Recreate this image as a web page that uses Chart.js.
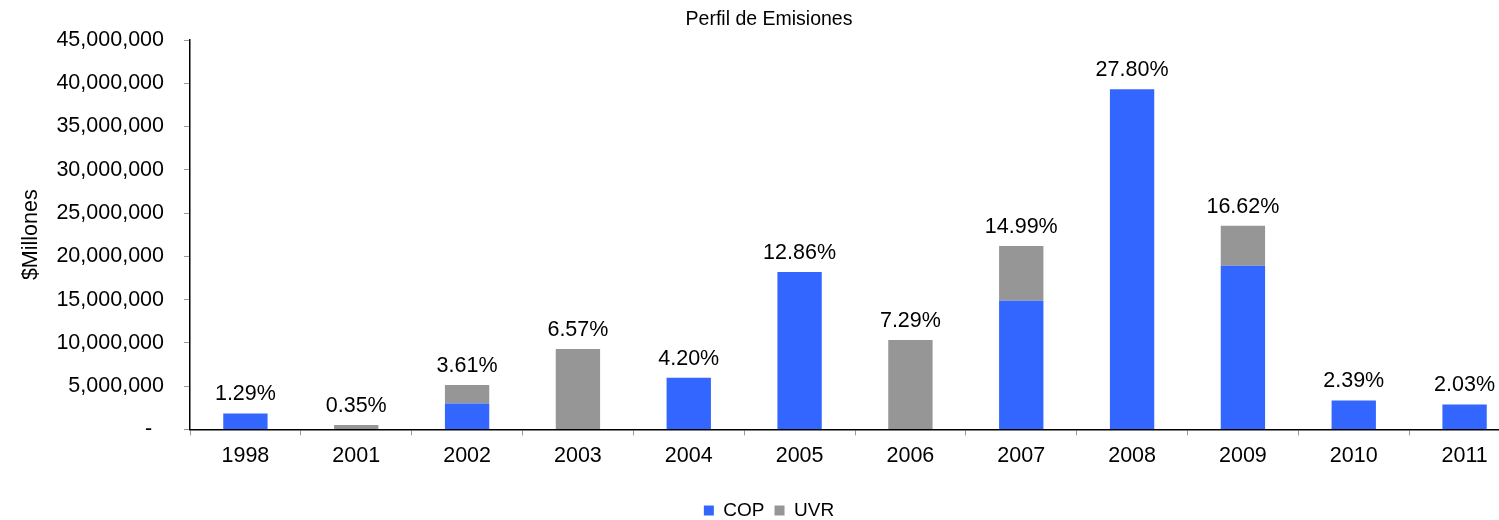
<!DOCTYPE html>
<html>
<head>
<meta charset="utf-8">
<script src="https://cdn.jsdelivr.net/npm/chart.js@4/dist/chart.umd.min.js"></script>
<style>
    html, body { margin: 0; padding: 0; background: #fff; overflow: hidden; }
    #wrap { width: 1532px; height: 520px; }
</style>
</head>
<body>
<div id="wrap"><canvas id="emisiones" width="1532" height="520"></canvas></div>
<script>
// categorias y valores (en millones de pesos)
const years = ['1998', '2001', '2002', '2003', '2004', '2005', '2006', '2007', '2008', '2009', '2010', '2011'];
const copValues = [1850000, 0, 3000000, 0, 5970000, 18200000, 0, 14870000, 39300000, 18910000, 3350000, 2890000];
const uvrValues = [0, 500000, 2120000, 9280000, 0, 0, 10320000, 6320000, 0, 4630000, 0, 0];
const shareLabels = ['1.29%', '0.35%', '3.61%', '6.57%', '4.20%', '12.86%', '7.29%', '14.99%', '27.80%', '16.62%', '2.39%', '2.03%'];

const FONT = "'Liberation Sans', Arial, sans-serif";

// dibuja el porcentaje encima de cada barra apilada
const shareLabelPlugin = {
    id: 'shareLabels',
    afterDatasetsDraw(chart) {
        const ctx = chart.ctx;
        const xScale = chart.scales.x;
        const yScale = chart.scales.y;
        ctx.save();
        ctx.font = '21.5px ' + FONT;
        ctx.fillStyle = '#000';
        ctx.textAlign = 'center';
        ctx.textBaseline = 'alphabetic';
        years.forEach((y, i) => {
            const total = copValues[i] + uvrValues[i];
            const px = xScale.getPixelForValue(i);
            const py = yScale.getPixelForValue(total) - 13;
            ctx.fillText(shareLabels[i], px, py);
        });
        ctx.restore();
    }
};

const ctx = document.getElementById('emisiones').getContext('2d');
new Chart(ctx, {
    type: 'bar',
    data: {
        labels: years,
        datasets: [
            { label: 'COP', data: copValues, backgroundColor: '#3366FF', borderWidth: 0 },
            { label: 'UVR', data: uvrValues, backgroundColor: '#969696', borderWidth: 0 }
        ]
    },
    options: {
        responsive: false,
        animation: false,
        events: [],
        layout: { padding: { left: 18, right: 12, top: 0, bottom: -10 } },
        datasets: { bar: { categoryPercentage: 1, barPercentage: 0.4 } },
        plugins: {
            title: {
                display: true,
                text: 'Perfil de Emisiones',
                color: '#000',
                font: { family: FONT, size: 19.5, weight: 'normal' },
                padding: { top: 8, bottom: 8.6 }
            },
            legend: {
                position: 'bottom',
                labels: {
                    color: '#000',
                    font: { family: FONT, size: 19 },
                    boxWidth: 10,
                    boxHeight: 10,
                    padding: 10
                }
            },
            tooltip: { enabled: false }
        },
        scales: {
            x: {
                stacked: true,
                afterFit: (scale) => { scale.height = 61.6; },
                grid: { drawOnChartArea: false, drawTicks: true, tickLength: 6, color: '#999' },
                border: { color: '#000', width: 1.5 },
                ticks: { color: '#000', font: { family: FONT, size: 21.5 }, padding: 8, maxRotation: 0 }
            },
            y: {
                stacked: true,
                min: 0,
                max: 45000000,
                afterFit: (scale) => { scale.width = 172; },
                grid: { drawOnChartArea: false, drawTicks: true, tickLength: 6, color: '#999' },
                border: { color: '#000', width: 1.5 },
                ticks: {
                    stepSize: 5000000,
                    color: '#000',
                    font: { family: FONT, size: 21.5 },
                    padding: 20,
                    callback: (v) => v === 0 ? '-  ' : v.toLocaleString('en-US')
                },
                title: {
                    display: true,
                    text: '$Millones',
                    color: '#000',
                    font: { family: FONT, size: 21.5 },
                    padding: 0
                }
            }
        }
    },
    plugins: [shareLabelPlugin]
});
</script>
</body>
</html>
